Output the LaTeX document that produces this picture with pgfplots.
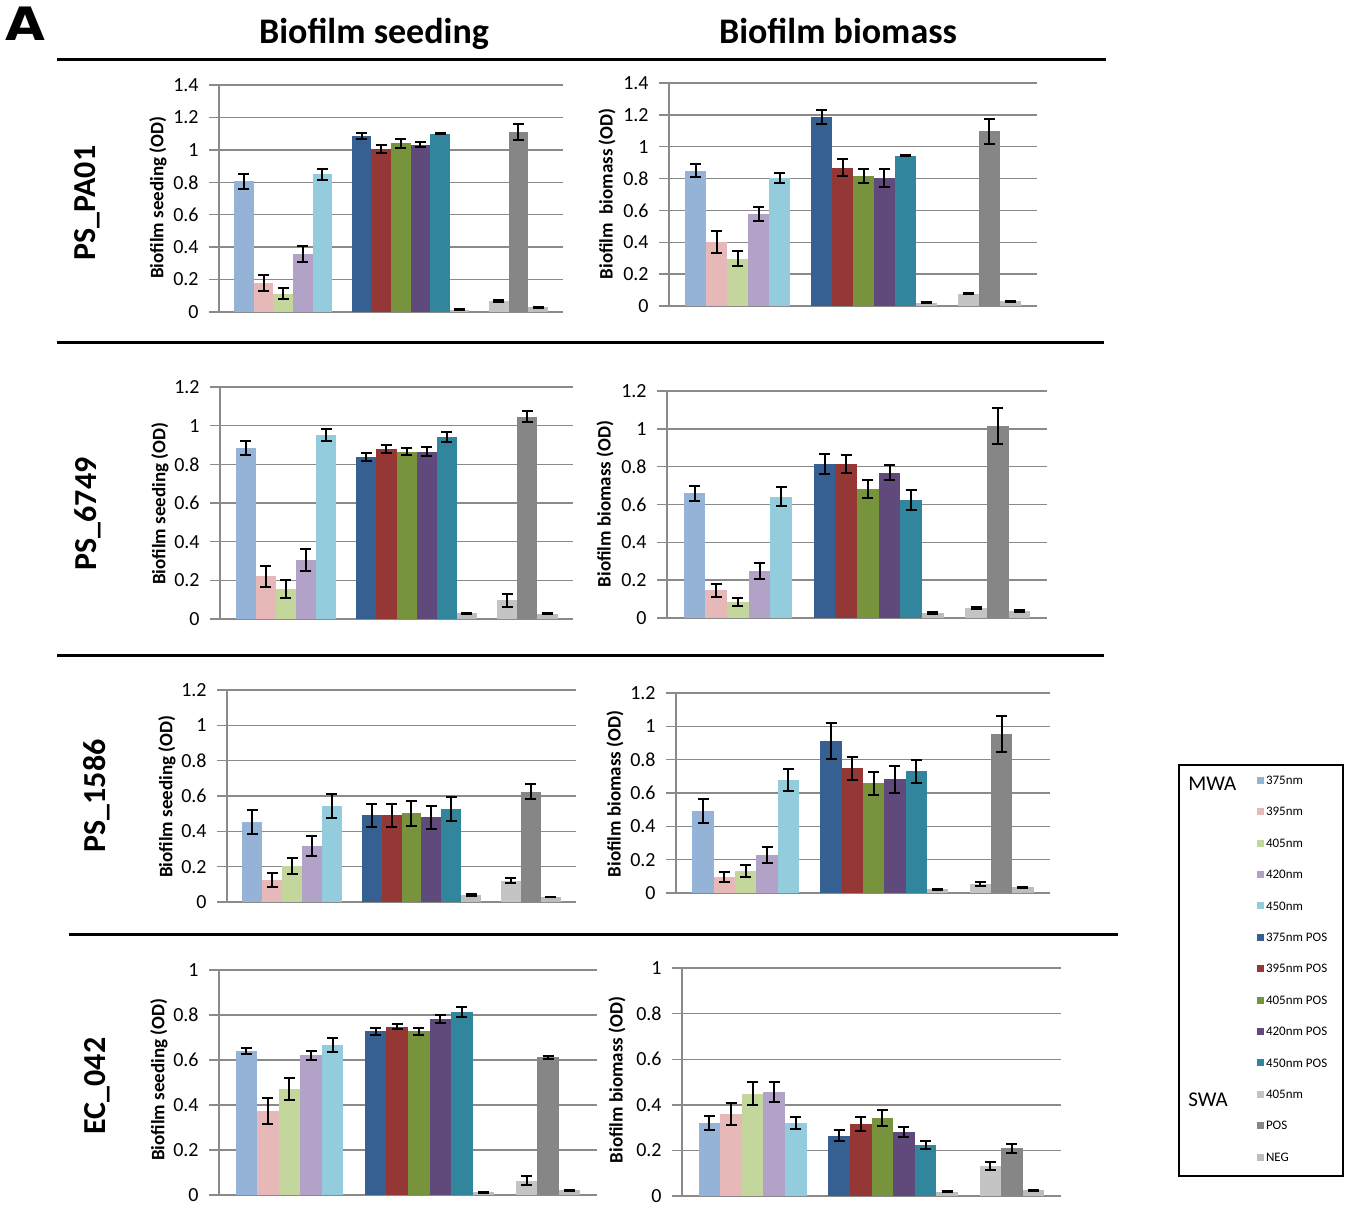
\documentclass[border=0pt]{standalone}
\usepackage{pgfplots}
\usepackage{pgfplotstable}
\pgfplotsset{compat=1.18}
\usepackage{fontspec}
\setmainfont{Carlito}
\newfontfamily\heavyfont{DejaVu Sans}

\definecolor{c0}{HTML}{95B3D7}
\definecolor{c1}{HTML}{E6B9B8}
\definecolor{c2}{HTML}{C3D69B}
\definecolor{c3}{HTML}{B3A2C7}
\definecolor{c4}{HTML}{93CDDD}
\definecolor{c6}{HTML}{376092}
\definecolor{c7}{HTML}{953735}
\definecolor{c8}{HTML}{77933C}
\definecolor{c9}{HTML}{604A7B}
\definecolor{c10}{HTML}{31859C}
\definecolor{c11}{HTML}{BDBDBD}
\definecolor{c13}{HTML}{C4C4C4}
\definecolor{c14}{HTML}{868686}
\definecolor{c15}{HTML}{BDBDBD}
\definecolor{gridgray}{HTML}{8A8A8A}

% PS_PA01 seeding
\pgfplotstableread{
x y e
0 0.805 0.048
1 0.179 0.048
2 0.113 0.032
3 0.357 0.049
4 0.850 0.034
6 1.088 0.018
7 1.004 0.026
8 1.040 0.026
9 1.031 0.016
10 1.099 0.003
11 0.014 0.003
13 0.068 0.004
14 1.111 0.048
15 0.029 0.003
}\tA
% PS_PA01 biomass
\pgfplotstableread{
x y e
0 0.850 0.043
1 0.403 0.069
2 0.298 0.050
3 0.577 0.044
4 0.802 0.031
6 1.186 0.046
7 0.869 0.052
8 0.817 0.044
9 0.802 0.057
10 0.942 0.003
11 0.021 0.003
13 0.078 0.005
14 1.096 0.080
15 0.029 0.003
}\tB
% PS_6749 seeding
\pgfplotstableread{
x y e
0 0.883 0.036
1 0.220 0.055
2 0.155 0.048
3 0.305 0.058
4 0.954 0.031
6 0.838 0.019
7 0.880 0.021
8 0.866 0.018
9 0.866 0.022
10 0.942 0.026
11 0.029 0.004
13 0.096 0.033
14 1.047 0.029
15 0.028 0.003
}\tC
% PS_6749 biomass
\pgfplotstableread{
x y e
0 0.660 0.039
1 0.146 0.035
2 0.085 0.022
3 0.247 0.042
4 0.641 0.049
6 0.812 0.053
7 0.815 0.047
8 0.683 0.049
9 0.768 0.039
10 0.623 0.053
11 0.026 0.004
13 0.051 0.005
14 1.016 0.094
15 0.037 0.003
}\tD
% PS_1586 seeding
\pgfplotstableread{
x y e
0 0.452 0.066
1 0.126 0.040
2 0.202 0.045
3 0.318 0.057
4 0.544 0.066
6 0.490 0.066
7 0.490 0.066
8 0.501 0.073
9 0.480 0.065
10 0.527 0.067
11 0.040 0.006
13 0.121 0.013
14 0.625 0.043
15 0.028 0.002
}\tE
% PS_1586 biomass
\pgfplotstableread{
x y e
0 0.494 0.072
1 0.096 0.032
2 0.134 0.035
3 0.227 0.047
4 0.678 0.066
6 0.911 0.107
7 0.749 0.069
8 0.658 0.070
9 0.682 0.082
10 0.730 0.071
11 0.022 0.003
13 0.054 0.014
14 0.955 0.108
15 0.034 0.002
}\tF
% EC_042 seeding
\pgfplotstableread{
x y e
0 0.641 0.013
1 0.373 0.056
2 0.471 0.050
3 0.621 0.019
4 0.667 0.030
6 0.727 0.015
7 0.748 0.012
8 0.727 0.014
9 0.782 0.019
10 0.812 0.023
11 0.012 0.002
13 0.064 0.021
14 0.613 0.007
15 0.022 0.002
}\tG
% EC_042 biomass
\pgfplotstableread{
x y e
0 0.319 0.031
1 0.359 0.047
2 0.449 0.049
3 0.456 0.043
4 0.319 0.026
6 0.265 0.024
7 0.316 0.032
8 0.341 0.036
9 0.282 0.022
10 0.222 0.018
11 0.019 0.002
13 0.132 0.018
14 0.209 0.019
15 0.026 0.002
}\tH

\pgfplotsset{
  panel/.style={
    scale only axis, clip=false,
    xmin=-1.27, xmax=16.27, ymin=0,
    axis x line*=bottom, axis y line*=left,
    axis line style={draw=gridgray, line width=0.7pt},
    xtick=\empty,
    ymajorgrids, grid style={draw=gridgray, line width=0.7pt},
    tick align=outside, major tick length=5pt,
    ytick style={draw=gridgray, line width=0.7pt},
    yticklabel style={font=\fontsize{10}{12}\selectfont, inner sep=0pt, xshift=-5pt},
    /pgf/number format/assume math mode=true,
  },
}

% #1 table, #2 at x, #3 at y, #4 width, #5 height, #6 ymax, #7 yticks
\newcommand{\panel}[7]{%
\begin{axis}[panel, at={(#2,#3)}, anchor=south west, width=#4, height=#5, ymax=#6, ytick={#7}]
\pgfplotsinvokeforeach{0,1,2,3,4,6,7,8,9,10,11,13,14,15}{
  \addplot[ybar, bar width=1, bar shift=0pt, fill=c##1, draw=none,
    restrict x to domain=##1:##1,
    error bars/.cd, y dir=both, y explicit,
    error bar style={black, line width=1pt},
    error mark options={black, line width=1pt, mark size=2.75pt, rotate=90}]
    table[x=x, y=y, y error=e]{#1};
}
\end{axis}}

\begin{document}
\begin{tikzpicture}
\useasboundingbox (0pt,0pt) rectangle (674.5pt,-612pt);

\panel{\tA}{109.5pt}{-156pt}{172pt}{113.5pt}{1.4}{0,0.2,0.4,0.6,0.8,1,1.2,1.4}
\panel{\tB}{334.5pt}{-153pt}{184pt}{111.5pt}{1.4}{0,0.2,0.4,0.6,0.8,1,1.2,1.4}
\panel{\tC}{110pt}{-309.5pt}{176.5pt}{116pt}{1.2}{0,0.2,0.4,0.6,0.8,1,1.2}
\panel{\tD}{333.5pt}{-309pt}{190pt}{113.5pt}{1.2}{0,0.2,0.4,0.6,0.8,1,1.2}
\panel{\tE}{113.5pt}{-451pt}{174.5pt}{106pt}{1.2}{0,0.2,0.4,0.6,0.8,1,1.2}
\panel{\tF}{338pt}{-446.5pt}{187pt}{100pt}{1.2}{0,0.2,0.4,0.6,0.8,1,1.2}
\panel{\tG}{109.5pt}{-597.5pt}{189pt}{112.5pt}{1}{0,0.2,0.4,0.6,0.8,1}
\panel{\tH}{341pt}{-598pt}{189.5pt}{114pt}{1}{0,0.2,0.4,0.6,0.8,1}

% legend
\begin{axis}[hide axis, scale only axis, width=1pt, height=1pt,
  xmin=0, xmax=1, ymin=0, ymax=1,
  at={(628.5pt,-388pt)}, anchor=north west,
  legend style={at={(0,1)}, anchor=north west, draw=none, fill=none,
    inner sep=0pt, outer sep=0pt, row sep=11.5pt, column sep=1pt,
    font=\fontsize{6.5}{6.5}\selectfont,
    nodes={inner sep=0pt, text height=4.2pt, text depth=0pt},
    cells={anchor=west}},
  legend image code/.code={\fill[#1, draw=none] (0pt,-1.75pt) rectangle (3.5pt,1.75pt);}]
\addlegendimage{fill=c0}
\addlegendimage{fill=c1}
\addlegendimage{fill=c2}
\addlegendimage{fill=c3}
\addlegendimage{fill=c4}
\addlegendimage{fill=c6}
\addlegendimage{fill=c7}
\addlegendimage{fill=c8}
\addlegendimage{fill=c9}
\addlegendimage{fill=c10}
\addlegendimage{fill=c13}
\addlegendimage{fill=c14}
\addlegendimage{fill=c15}
\legend{375nm,395nm,405nm,420nm,450nm,375nm POS,395nm POS,405nm POS,420nm POS,450nm POS,405nm,POS,NEG}
\end{axis}

\begin{scope}[x=0.5pt, y=-0.5pt]
% separators
\draw[line width=1.5pt] (57,60) -- (1106,60);
\draw[line width=1.5pt] (57,343) -- (1104,343);
\draw[line width=1.5pt] (57,655) -- (1104,655);
\draw[line width=1.5pt] (69,934) -- (1118,934);
% panel letter
\node[font=\fontsize{23}{23}\heavyfont\bfseries, inner sep=0pt, xscale=1.12] at (25,24) {A};
% column titles
\node[font=\fontsize{18}{20}\selectfont\bfseries, anchor=base] at (374,44) {Biofilm seeding};
\node[font=\fontsize{18}{20}\selectfont\bfseries, anchor=base] at (838,44) {Biofilm biomass};
% row labels
\node[rotate=90, font=\fontsize{16}{18}\selectfont\bfseries] at (87,203) {PS\_PA01};
\node[rotate=90, font=\fontsize{16}{18}\selectfont\bfseries] at (88,514) {PS\_6749};
\node[rotate=90, font=\fontsize{16}{18}\selectfont\bfseries] at (97,796) {PS\_1586};
\node[rotate=90, font=\fontsize{16}{18}\selectfont\bfseries] at (97,1086) {EC\_042};
% y labels
\node[rotate=90, font=\fontsize{9.5}{11}\selectfont\bfseries] at (158,198) {Biofilm seeding (OD)};
\node[rotate=90, font=\fontsize{9.5}{11}\selectfont\bfseries] at (607,194) {Biofilm\ \ biomass (OD)};
\node[rotate=90, font=\fontsize{9.5}{11}\selectfont\bfseries] at (160,504) {Biofilm seeding (OD)};
\node[rotate=90, font=\fontsize{9.5}{11}\selectfont\bfseries] at (605,504) {Biofilm biomass (OD)};
\node[rotate=90, font=\fontsize{9.5}{11}\selectfont\bfseries] at (167,797) {Biofilm seeding (OD)};
\node[rotate=90, font=\fontsize{9.5}{11}\selectfont\bfseries] at (615,794) {Biofilm biomass (OD)};
\node[rotate=90, font=\fontsize{9.5}{11}\selectfont\bfseries] at (159,1080) {Biofilm seeding (OD)};
\node[rotate=90, font=\fontsize{9.5}{11}\selectfont\bfseries] at (617,1080) {Biofilm biomass (OD)};
% legend frame and group labels
\draw[line width=0.8pt] (1179,765) rectangle (1343,1176);
\node[anchor=west, inner sep=0pt, font=\fontsize{10.5}{12}\selectfont] at (1188,784) {MWA};
\node[anchor=west, inner sep=0pt, font=\fontsize{10.5}{12}\selectfont] at (1188,1100) {SWA};
\end{scope}
\end{tikzpicture}
\end{document}
